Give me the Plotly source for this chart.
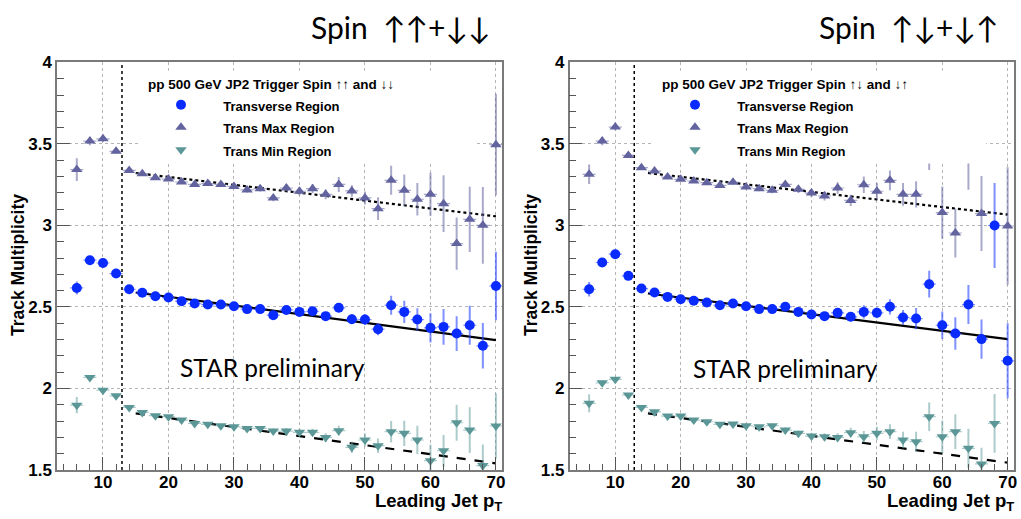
import plotly.graph_objects as go

# ---------------- data ----------------
pt = [6, 8, 10, 12, 14, 16, 18, 20, 22, 24, 26, 28, 30, 32, 34, 36, 38, 40,
      42, 44, 46, 48, 50, 52, 54, 56, 58, 60, 62, 64, 66, 68, 70]
pt_halfwidth = [1] * len(pt)

# Spin up-up + down-down (left panel)
L_trans = [2.617, 2.787, 2.770, 2.705, 2.609, 2.587, 2.566, 2.558, 2.536, 2.521, 2.515,
           2.515, 2.505, 2.487, 2.487, 2.450, 2.482, 2.470, 2.474, 2.444, 2.495, 2.425,
           2.423, 2.364, 2.511, 2.470, 2.423, 2.372, 2.378, 2.337, 2.388, 2.262, 2.629]
L_trans_err = [0.04, 0.015, 0.012, 0.01, 0.01, 0.01, 0.01, 0.01, 0.01, 0.01, 0.01, 0.01,
               0.012, 0.012, 0.014, 0.016, 0.018, 0.02, 0.022, 0.024, 0.027, 0.03, 0.033,
               0.037, 0.058, 0.068, 0.07, 0.09, 0.11, 0.107, 0.12, 0.14, 0.21]
L_max = [3.343, 3.518, 3.532, 3.455, 3.338, 3.318, 3.293, 3.285, 3.267, 3.252, 3.257,
         3.252, 3.240, 3.218, 3.226, 3.169, 3.230, 3.210, 3.226, 3.191, 3.252, 3.212,
         3.169, 3.103, 3.277, 3.216, 3.161, 3.191, 3.134, 2.889, 3.038, 3.001, 3.496]
L_max_err = [0.07, 0.025, 0.02, 0.015, 0.012, 0.012, 0.012, 0.012, 0.012, 0.012, 0.013,
             0.014, 0.015, 0.016, 0.018, 0.02, 0.022, 0.025, 0.028, 0.03, 0.046, 0.035,
             0.04, 0.07, 0.089, 0.097, 0.1, 0.133, 0.174, 0.16, 0.2, 0.235, 0.31]
L_min = [1.898, 2.068, 1.990, 1.955, 1.884, 1.853, 1.833, 1.827, 1.806, 1.786, 1.780,
         1.772, 1.765, 1.755, 1.755, 1.739, 1.739, 1.731, 1.731, 1.700, 1.741, 1.639,
         1.684, 1.649, 1.735, 1.725, 1.684, 1.557, 1.618, 1.790, 1.745, 1.527, 1.770]
L_min_err = [0.05, 0.015, 0.012, 0.01, 0.01, 0.01, 0.01, 0.01, 0.01, 0.01, 0.01, 0.011,
             0.012, 0.013, 0.014, 0.016, 0.018, 0.02, 0.022, 0.025, 0.03, 0.035, 0.04,
             0.045, 0.066, 0.077, 0.087, 0.1, 0.097, 0.11, 0.14, 0.13, 0.2]

# Spin up-down + down-up (right panel)
R_trans = [2.609, 2.773, 2.824, 2.691, 2.613, 2.589, 2.562, 2.548, 2.538, 2.528, 2.511,
           2.521, 2.505, 2.487, 2.487, 2.501, 2.470, 2.454, 2.444, 2.464, 2.440, 2.470,
           2.464, 2.501, 2.436, 2.429, 2.640, 2.388, 2.337, 2.515, 2.303, 3.000, 2.170]
R_trans_err = [0.045, 0.015, 0.012, 0.01, 0.01, 0.01, 0.01, 0.01, 0.01, 0.01, 0.01, 0.01,
               0.012, 0.012, 0.014, 0.016, 0.018, 0.02, 0.022, 0.024, 0.027, 0.04, 0.033,
               0.047, 0.045, 0.065, 0.082, 0.085, 0.1, 0.12, 0.12, 0.26, 0.23]
R_max = [3.314, 3.518, 3.604, 3.430, 3.355, 3.334, 3.297, 3.283, 3.273, 3.263, 3.246,
         3.265, 3.236, 3.226, 3.216, 3.252, 3.222, 3.199, 3.181, 3.230, 3.154, 3.250,
         3.210, 3.277, 3.191, 3.191, 3.46, 3.079, 2.954, 3.45, 3.073, None, 2.997]
R_max_err = [0.06, 0.025, 0.02, 0.015, 0.012, 0.012, 0.012, 0.012, 0.012, 0.012, 0.013,
             0.014, 0.015, 0.016, 0.018, 0.02, 0.022, 0.025, 0.028, 0.035, 0.035, 0.05,
             0.05, 0.06, 0.07, 0.08, 0.12, 0.16, 0.15, 0.23, 0.23, 0.0, 0.36]
R_min = [1.909, 2.035, 2.056, 1.960, 1.884, 1.857, 1.831, 1.831, 1.806, 1.796, 1.780,
         1.782, 1.772, 1.765, 1.772, 1.745, 1.725, 1.708, 1.704, 1.700, 1.729, 1.704,
         1.725, 1.735, 1.684, 1.674, 1.827, 1.704, 1.735, 1.633, 1.537, 1.786, None]
R_min_err = [0.055, 0.015, 0.012, 0.01, 0.01, 0.01, 0.01, 0.01, 0.01, 0.01, 0.01, 0.011,
             0.012, 0.013, 0.014, 0.016, 0.018, 0.02, 0.022, 0.025, 0.03, 0.035, 0.04,
             0.045, 0.05, 0.06, 0.087, 0.1, 0.107, 0.12, 0.1, 0.18, 0.0]

# linear fits (end points)
fit_x = [15, 70]
L_fit_trans = [2.589, 2.297]
L_fit_max = [3.322, 3.056]
L_fit_min = [1.847, 1.541]
R_fit_trans = [2.583, 2.303]
R_fit_max = [3.322, 3.067]
R_fit_min = [1.847, 1.545]

cut_pt = 12.9

series_names = ["Transverse Region", "Trans Max Region", "Trans Min Region"]
legend_titles = ["pp 500 GeV JP2 Trigger Spin ↑↑ and ↓↓",
                 "pp 500 GeV JP2 Trigger Spin ↑↓ and ↓↑"]
panel_titles = ["Spin  ↑↑+↓↓", "Spin  ↑↓+↓↑"]
x_title = "Leading Jet p<sub>T</sub>"
y_title = "Track Multiplicity"
prelim = "STAR preliminary"

# ---------------- styles ----------------
COL = ["#0a2bff", "#62639f", "#5c9797"]
ECOL = ["rgba(40,70,255,0.6)", "rgba(98,99,159,0.55)", "rgba(92,151,151,0.5)"]
SYM = ["circle", "triangle-up", "triangle-down"]
MSIZE = [10, 10, 10]
FIT_DASH = ["solid", "dot", "dash"]
AXFONT = dict(family="Liberation Sans", size=17, color="black", weight="bold")

fig = go.Figure()

panels = [
    dict(xa="x", ya="y", legend="legend",
         vals=[L_trans, L_max, L_min], errs=[L_trans_err, L_max_err, L_min_err],
         fits=[L_fit_trans, L_fit_max, L_fit_min]),
    dict(xa="x2", ya="y2", legend="legend2",
         vals=[R_trans, R_max, R_min], errs=[R_trans_err, R_max_err, R_min_err],
         fits=[R_fit_trans, R_fit_max, R_fit_min]),
]

for p in panels:
    for k in range(3):
        fig.add_trace(go.Scatter(
            x=fit_x, y=p["fits"][k], mode="lines", xaxis=p["xa"], yaxis=p["ya"],
            line=dict(color="black", width=2.2, dash=FIT_DASH[k]),
            showlegend=False, hoverinfo="skip"))
    for k in range(3):
        fig.add_trace(go.Scatter(
            x=pt, y=p["vals"][k], mode="markers", xaxis=p["xa"], yaxis=p["ya"],
            name='<span style="font-size:13px">&nbsp;&nbsp;' + series_names[k] + "</span>",
            legend=p["legend"],
            marker=dict(symbol=SYM[k], size=MSIZE[k], color=COL[k], line=dict(width=0)),
            error_y=dict(type="data", array=p["errs"][k], color=ECOL[k], thickness=2, width=0),
            error_x=dict(type="data", array=pt_halfwidth, color=ECOL[k], thickness=1.2, width=0),
        ))

axis_common = dict(
    showline=True, mirror=True, linecolor="#7a7a7a", linewidth=1.5,
    showgrid=True, gridcolor="#b5b5b5", griddash="dot", gridwidth=1,
    ticks="inside", ticklen=13, tickwidth=1.2, tickcolor="#555555",
    tickfont=AXFONT, zeroline=False, automargin=False,
)

xdom = [[0.05597, 0.49216], [0.55779, 0.99334]]
ydom = [0.09441, 0.87958]

for i, sfx in enumerate(["", "2"]):
    fig.update_layout(**{
        "xaxis" + sfx: dict(axis_common, domain=xdom[i], range=[3, 71], dtick=10, tick0=0,
                            anchor="y" + sfx, ticklabelstandoff=-4,
                            minor=dict(dtick=2, ticklen=6, tickcolor="#555555", ticks="inside",
                                       showgrid=False)),
        "yaxis" + sfx: dict(axis_common, domain=ydom, range=[1.5, 4], dtick=0.5, tick0=0,
                            anchor="x" + sfx,
                            minor=dict(dtick=0.1, ticklen=7, tickcolor="#555555", ticks="inside",
                                       showgrid=False)),
    })

shapes = []
annotations = []
for i, sfx in enumerate(["", "2"]):
    xa = "x" + sfx
    ya = "y" + sfx
    # trigger threshold dotted line
    shapes.append(dict(type="line", xref=xa, yref=ya + " domain", x0=cut_pt, x1=cut_pt,
                       y0=0, y1=1, line=dict(color="black", width=1.5, dash="dot"),
                       layer="above"))
    # white legend box covering grid and data
    shapes.append(dict(type="rect", xref=xa + " domain", yref=ya + " domain",
                       x0=0.187, x1=0.937, y0=0.752, y1=0.980,
                       fillcolor="white", line=dict(width=0), layer="above"))
    annotations.append(dict(text=x_title, xref=xa + " domain", x=1.003, xanchor="right",
                            yref="paper", y=1 - 502 / 519, yanchor="middle", showarrow=False,
                            font=dict(family="Liberation Sans", size=18.5, color="black",
                                      weight="bold")))
    annotations.append(dict(text=y_title, textangle=-90, xref="paper",
                            x=[18 / 1021, 531 / 1021][i], xanchor="center",
                            yref="paper", y=1 - 265 / 519, yanchor="middle", showarrow=False,
                            font=dict(family="Liberation Sans", size=17.5, color="black",
                                      weight="bold")))
    annotations.append(dict(text=panel_titles[i], xref="paper",
                            x=[400 / 1021, 908 / 1021][i], xanchor="center",
                            yref="paper", y=1 - 27 / 519, yanchor="middle", showarrow=False,
                            font=dict(family="Lato", size=30, color="black")))
    annotations.append(dict(text=prelim, xref=xa, yref=ya, x=[21.4, 21.6][i],
                            y=[2.131, 2.125][i], xanchor="left", yanchor="middle",
                            showarrow=False, font=dict(family="Lato", size=24.5, color="black")))

legend_common = dict(
    xanchor="left", yanchor="top", bgcolor="rgba(255,255,255,0)", borderwidth=0,
    font=dict(family="Liberation Sans", size=15, color="black", weight="bold"),
    itemwidth=60, tracegroupgap=0,
)

def leg_title(t):
    return dict(text='<span style="font-size:13.5px">' + t + "</span>", side="top",
                font=dict(family="Liberation Sans", size=15, color="black", weight="bold"))

fig.update_layout(
    width=1021, height=519,
    margin=dict(l=0, r=0, t=0, b=0, autoexpand=False),
    paper_bgcolor="white", plot_bgcolor="white",
    shapes=shapes, annotations=annotations,
    legend=dict(legend_common, x=146 / 1021, y=1 - 69 / 519, title=leg_title(legend_titles[0])),
    legend2=dict(legend_common, x=660 / 1021, y=1 - 69 / 519, title=leg_title(legend_titles[1])),
)

fig.write_html("out.html")
